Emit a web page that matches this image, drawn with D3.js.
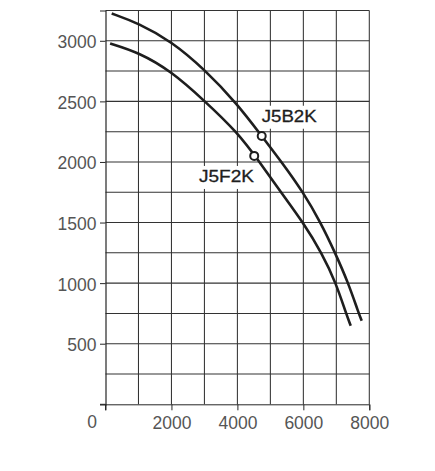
<!DOCTYPE html>
<html>
<head>
<meta charset="utf-8">
<script src="https://cdn.jsdelivr.net/npm/d3@7"></script>
<style>
  html, body { margin: 0; padding: 0; background: #fff; }
  svg { display: block; }
</style>
</head>
<body>
<svg id="chart" width="435" height="471"></svg>
<script>
// ---- data ----
const xTicks = [2000, 4000, 6000, 8000];
const yTicks = [500, 1000, 1500, 2000, 2500, 3000];
const xGrid = [1000, 2000, 3000, 4000, 5000, 6000, 7000, 8000];
const yGrid = [250, 500, 750, 1000, 1250, 1500, 1750, 2000, 2250, 2500, 2750, 3000, 3250];

const seriesNames = ["J5B2K", "J5F2K"];
const j5b2k = [[188,3225],[1000,3145],[2000,2995],[3000,2765],[4000,2478],[4737,2214],[5340,2000],[6000,1748],[6525,1500],[6965,1250],[7365,1000],[7680,750],[7770,690]];
const j5f2k = [[140,2978],[1000,2905],[2000,2748],[3000,2505],[4000,2245],[4670,2000],[5320,1750],[5995,1500],[6557,1250],[6991,1000],[7294,750],[7437,648]];
const markers = [[4737,2214],[4510,2050]];
const labelAt = [[4737,2332,"start"],[4504,1835,"end"]];

// ---- layout ----
const svg = d3.select("#chart");
const mLeft = 105.5, mRight = 369.3, mTop = 10.5, mBottom = 404.3;
const x = d3.scaleLinear().domain([0, 8000]).range([mLeft, mRight]);
const y = d3.scaleLinear().domain([0, 3250]).range([mBottom, mTop]);

const ink = "#262626";
const gridCol = "#333";
const font = "'Liberation Sans', Arial, Helvetica, sans-serif";

// grid
const g = svg.append("g");
g.selectAll("line.vx").data(xGrid).join("line")
  .attr("x1", d => x(d)).attr("x2", d => x(d))
  .attr("y1", y(0)).attr("y2", y(3250))
  .attr("stroke", gridCol).attr("stroke-width", 1.05);
g.selectAll("line.hy").data(yGrid).join("line")
  .attr("x1", x(0)).attr("x2", x(8000))
  .attr("y1", d => y(d)).attr("y2", d => y(d))
  .attr("stroke", gridCol).attr("stroke-width", 1.05);

// axes
const yAxis = d3.axisLeft(y).tickValues(yTicks).tickSize(5.5).tickPadding(3.5).tickFormat(d3.format("d"));
const ya = svg.append("g").attr("transform", `translate(${mLeft},0)`).call(yAxis);
ya.select(".domain").attr("stroke", ink).attr("stroke-width", 1.2);
ya.selectAll(".tick line").attr("stroke", ink);
ya.selectAll(".tick text").attr("font-family", font).attr("font-size", 17.5)
  .attr("fill", "#555").attr("dy", "0.4em");

const xAxis = d3.axisBottom(x).tickValues(xTicks).tickSize(6).tickPadding(6).tickFormat(d3.format("d"));
const xa = svg.append("g").attr("transform", `translate(0,${mBottom})`).call(xAxis);
xa.select(".domain").attr("stroke", ink).attr("stroke-width", 1);
xa.selectAll(".tick line").attr("stroke", ink);
xa.selectAll(".tick text").attr("font-family", font).attr("font-size", 17.5)
  .attr("fill", "#555").attr("dy", "0.75em");

// origin ticks and label
svg.append("line").attr("x1", x(0) - 5.5).attr("x2", x(0)).attr("y1", y(0)).attr("y2", y(0)).attr("stroke", ink);
svg.append("line").attr("x1", x(0)).attr("x2", x(0)).attr("y1", y(0)).attr("y2", y(0) + 6).attr("stroke", ink);
svg.append("text").attr("x", x(0) - 13.5).attr("y", y(0) + 24)
  .attr("text-anchor", "middle").attr("font-family", font).attr("font-size", 17.5)
  .attr("fill", "#555").text("0");

// curves
const line = d3.line().x(d => x(d[0])).y(d => y(d[1])).curve(d3.curveBasis);
[j5b2k, j5f2k].forEach(s => {
  svg.append("path").datum(s).attr("d", line)
    .attr("fill", "none").attr("stroke", "#1e1e1e").attr("stroke-width", 2.6)
    .attr("stroke-linecap", "butt");
});

// labels with white backgrounds
seriesNames.forEach((name, i) => {
  const [lx, ly, anchor] = labelAt[i];
  const lg = svg.append("g");
  const t = lg.append("text").attr("x", x(lx)).attr("y", y(ly))
    .attr("text-anchor", anchor).attr("font-family", font).attr("font-size", 16.5)
    .attr("fill", "#1e1e1e")
    .attr("textLength", 55).attr("lengthAdjust", "spacingAndGlyphs")
    .attr("stroke", "#1e1e1e").attr("stroke-width", 0.3)
    .text(name);
  const bb = t.node().getBBox();
  lg.insert("rect", "text").attr("x", bb.x - 3).attr("y", bb.y - 1)
    .attr("width", bb.width + 6).attr("height", bb.height + 5).attr("fill", "#fff");
});

// markers
svg.selectAll("circle.m").data(markers).join("circle")
  .attr("cx", d => x(d[0])).attr("cy", d => y(d[1])).attr("r", 4)
  .attr("fill", "#fff").attr("stroke", "#1e1e1e").attr("stroke-width", 2);
</script>
</body>
</html>
